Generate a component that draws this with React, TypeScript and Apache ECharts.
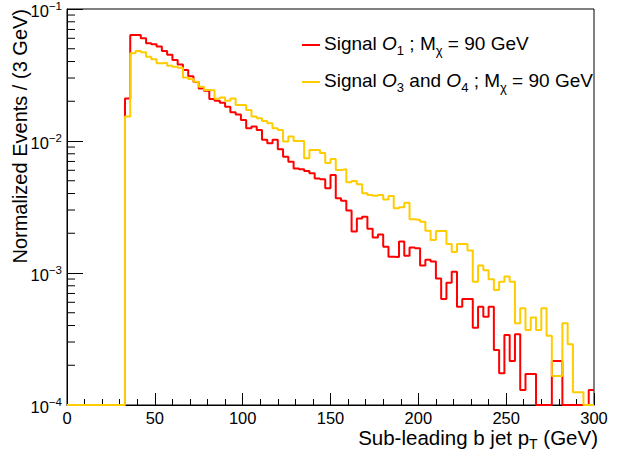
import React, { useEffect, useRef } from 'react';
import * as echarts from 'echarts';

const BIN_WIDTH = 3; // GeV per bin, bins start at 0
const X_MIN = 0;
const X_MAX = 300;
const Y_MIN = 1e-4;
const Y_MAX = 1e-1;

const Y_MINOR_TICKS = [
  2e-4, 3e-4, 4e-4, 5e-4, 6e-4, 7e-4, 8e-4, 9e-4,
  2e-3, 3e-3, 4e-3, 5e-3, 6e-3, 7e-3, 8e-3, 9e-3,
  2e-2, 3e-2, 4e-2, 5e-2, 6e-2, 7e-2, 8e-2, 9e-2,
];

// Signal O1 ; M_chi = 90 GeV (red), 100 bins of 3 GeV
const signalO1 = [
  0, 0, 0, 0, 0, 0, 0, 0, 0, 0,
  0, 0.021, 0.0635, 0.0635, 0.060, 0.055, 0.054, 0.052, 0.048, 0.045,
  0.041, 0.038, 0.0345, 0.031, 0.028, 0.025, 0.024, 0.0208, 0.0202, 0.0195,
  0.0182, 0.0165, 0.0159, 0.0144, 0.0125, 0.0129, 0.0121, 0.0102, 0.0096, 0.0102,
  0.00865, 0.0076, 0.00697, 0.0062, 0.0061, 0.00593, 0.00569, 0.00521, 0.00513, 0.00439,
  0.00552, 0.00368, 0.00353, 0.00297, 0.00206, 0.00259, 0.00267, 0.00216, 0.00186, 0.00196,
  0.00158, 0.00133, 0.00132, 0.00173, 0.00135, 0.00156, 0.00154, 0.00114, 0.00126, 0.00122,
  0.00091, 0.000635, 0.000845, 0.00102, 0.000556, 0.000635, 0.000635, 0.000385, 0.000556, 0.000467,
  0.000556, 0.000261, 0.000174, 0.000339, 0.000215, 0.000343, 0.00013, 0.000172, 0.000172, 0,
  0, 0, 0.000215, 0.000215, 0, 0, 0, 0, 0, 0.00013,
];

// Signal O3 and O4 ; M_chi = 90 GeV (yellow), 100 bins of 3 GeV
const signalO3O4 = [
  0, 0, 0, 0, 0, 0, 0, 0, 0, 0,
  0, 0.0153, 0.0462, 0.048, 0.047, 0.0435, 0.0416, 0.0388, 0.0392, 0.0372,
  0.0365, 0.0359, 0.0303, 0.0295, 0.0281, 0.0258, 0.0243, 0.0242, 0.0209, 0.0214,
  0.0202, 0.021, 0.0187, 0.0187, 0.0172, 0.0153, 0.0149, 0.0142, 0.0136, 0.0125,
  0.0121, 0.0099, 0.0108, 0.0100, 0.0100, 0.0074, 0.00855, 0.00855, 0.0081, 0.0068,
  0.00731, 0.00603, 0.0061, 0.00487, 0.00498, 0.0047, 0.00402, 0.0039, 0.00385, 0.0039,
  0.00361, 0.00383, 0.00309, 0.00315, 0.00341, 0.00255, 0.00252, 0.00245, 0.00209, 0.00178,
  0.00208, 0.00208, 0.00166, 0.00144, 0.00166, 0.00166, 0.00148, 0.00086, 0.00114, 0.00105,
  0.000896, 0.000743, 0.00086, 0.00094, 0.00086, 0.000416, 0.00054, 0.00037, 0.00046, 0.00037,
  0.00054, 0.000334, 0.000166, 0.000166, 0.000416, 0.000288, 0.000125, 0.000125, 0, 0,
];

const RED = '#ff0000';
const YELLOW = '#ffcc00';
const FONT = 'Liberation Sans, Arial, Helvetica, sans-serif';

function histPoints(vals: number[]): number[][] {
  const pts = vals.map((v, i) => [i * BIN_WIDTH, v > 0 ? v : Y_MIN]);
  const last = vals[vals.length - 1];
  pts.push([vals.length * BIN_WIDTH, last > 0 ? last : Y_MIN]);
  return pts;
}

export default function App() {
  const ref = useRef<HTMLDivElement>(null);

  useEffect(() => {
    if (!ref.current) return;
    const chart = echarts.init(ref.current, null, { renderer: 'svg' });

    const legendRich = {
      n: { fontSize: 19, fontFamily: FONT, fill: '#000' },
      i: { fontSize: 19, fontFamily: FONT, fontStyle: 'italic', fill: '#000' },
      sub: { fontSize: 13, fontFamily: FONT, fill: '#000', padding: [15, 0, 0, 0] },
    };

    chart.setOption({
      animation: false,
      backgroundColor: '#fff',
      grid: {
        left: 67,
        right: 31,
        top: 9,
        bottom: 51,
        show: true,
        borderColor: '#000',
        borderWidth: 1,
        backgroundColor: 'transparent',
        containLabel: false,
        outerBoundsMode: 'none',
      },
      xAxis: {
        type: 'value',
        min: X_MIN,
        max: X_MAX,
        interval: 50,
        axisLine: { show: true, onZero: false, lineStyle: { color: '#000', width: 1 } },
        axisTick: { show: true, inside: true, length: 12, lineStyle: { color: '#000', width: 1 } },
        minorTick: { show: true, splitNumber: 5, length: 6, lineStyle: { color: '#000', width: 1 } },
        splitLine: { show: false },
        minorSplitLine: { show: false },
        axisLabel: {
          color: '#000',
          fontSize: 16.5,
          fontFamily: FONT,
          margin: 4,
          showMinLabel: true,
          showMaxLabel: true,
        },
      },
      yAxis: {
        type: 'log',
        logBase: 10,
        min: Y_MIN,
        max: Y_MAX,
        axisLine: { show: true, onZero: false, lineStyle: { color: '#000', width: 1 } },
        axisTick: { show: true, inside: true, length: 16, lineStyle: { color: '#000', width: 1 } },
        splitLine: { show: false },
        axisLabel: {
          color: '#000',
          margin: 5,
          showMinLabel: true,
          showMaxLabel: true,
          formatter: (v: number) => {
            const e = Math.round(Math.log10(v));
            return '{b|10}{s|\u2212' + Math.abs(e) + '}';
          },
          rich: {
            b: { fontSize: 16.5, fontFamily: FONT, color: '#000', padding: [4, 0, 0, 0] },
            s: { fontSize: 11.5, fontFamily: FONT, color: '#000', padding: [0, 0, 7, 0] },
          },
        },
      },
      series: [
        {
          type: 'line',
          name: 'Signal O1',
          step: 'end',
          data: histPoints(signalO1),
          showSymbol: false,
          symbol: 'none',
          lineStyle: { color: RED, width: 2 },
          itemStyle: { color: RED },
          clip: true,
          silent: true,
          z: 2,
        },
        {
          type: 'line',
          name: 'Signal O3 and O4',
          step: 'end',
          data: histPoints(signalO3O4),
          showSymbol: false,
          symbol: 'none',
          lineStyle: { color: YELLOW, width: 2 },
          itemStyle: { color: YELLOW },
          clip: true,
          silent: true,
          z: 3,
        },
        {
          type: 'custom',
          silent: true,
          clip: false,
          data: Y_MINOR_TICKS.map((v) => [X_MIN, v]),
          renderItem: (params: any, api: any) => {
            const p = api.coord([api.value(0), api.value(1)]);
            return {
              type: 'line',
              shape: { x1: p[0], y1: p[1], x2: p[0] + 8, y2: p[1] },
              style: { stroke: '#000', lineWidth: 1 },
            };
          },
          z: 4,
        },
      ],
      graphic: [
        {
          type: 'text',
          x: 20,
          y: 9,
          rotation: Math.PI / 2,
          style: {
            text: 'Normalized Events / (3 GeV)',
            fontSize: 20,
            fontFamily: FONT,
            fill: '#000',
            align: 'right',
            verticalAlign: 'middle',
          },
        },
        {
          type: 'text',
          x: 598,
          y: 437,
          style: {
            text: 'Sub-leading b jet p{sub|T} (GeV)',
            fontSize: 20.5,
            fontFamily: FONT,
            fill: '#000',
            align: 'right',
            verticalAlign: 'middle',
            rich: {
              sub: { fontSize: 14, fontFamily: FONT, fill: '#000', padding: [14, 0, 0, 0] },
            },
          },
        },
        {
          type: 'line',
          shape: { x1: 302, y1: 45, x2: 320, y2: 45 },
          style: { stroke: RED, lineWidth: 2 },
        },
        {
          type: 'text',
          x: 324,
          y: 43,
          style: {
            text: '{n|Signal }{i|O}{sub|1}{n| ; M}{sub|\u03c7}{n| = 90 GeV}',
            fontSize: 19,
            fontFamily: FONT,
            fill: '#000',
            align: 'left',
            verticalAlign: 'middle',
            rich: legendRich,
          },
        },
        {
          type: 'line',
          shape: { x1: 302, y1: 82, x2: 320, y2: 82 },
          style: { stroke: YELLOW, lineWidth: 2 },
        },
        {
          type: 'text',
          x: 324,
          y: 80,
          style: {
            text: '{n|Signal }{i|O}{sub|3}{n| and }{i|O}{sub|4}{n| ; M}{sub|\u03c7}{n| = 90 GeV}',
            fontSize: 19,
            fontFamily: FONT,
            fill: '#000',
            align: 'left',
            verticalAlign: 'middle',
            rich: legendRich,
          },
        },
      ],
    });

    return () => {
      chart.dispose();
    };
  }, []);

  return (
    <div
      ref={ref}
      style={{ position: 'fixed', left: 0, top: 0, width: 625, height: 456, background: '#fff' }}
    />
  );
}
